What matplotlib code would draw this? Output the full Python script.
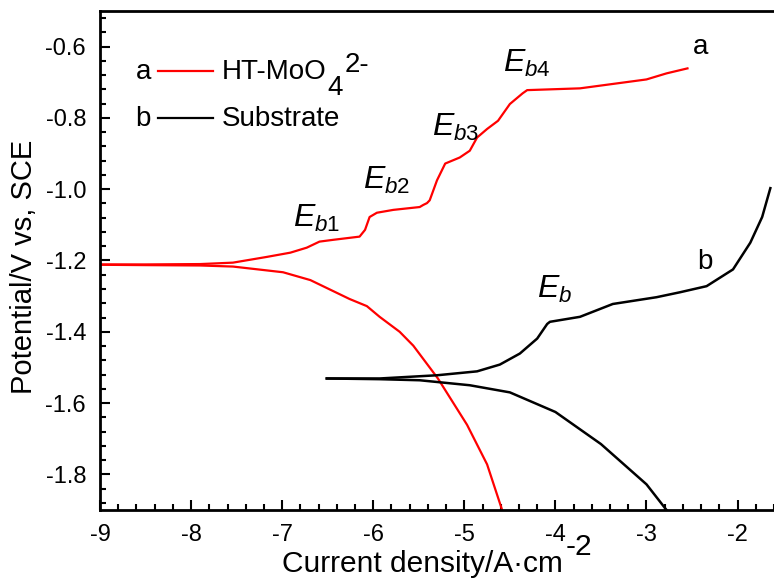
import matplotlib
matplotlib.use('Agg')
import matplotlib.pyplot as plt
from matplotlib.ticker import MultipleLocator, FormatStrFormatter

plt.rcParams['font.family'] = ['Liberation Sans', 'DejaVu Sans']
plt.rcParams['mathtext.fontset'] = 'custom'
plt.rcParams['mathtext.rm'] = 'Liberation Sans'
plt.rcParams['mathtext.it'] = 'Liberation Sans:italic'
plt.rcParams['axes.unicode_minus'] = False

# curve a: HT-MoO4(2-) film, anodic and cathodic branches (log i, E)
a_anod_x = [-9.0, -8.5, -7.9, -7.54, -7.17, -6.91, -6.73, -6.59, -6.44, -6.15, -6.09,
            -6.04, -5.96, -5.78, -5.49, -5.45, -5.41, -5.38, -5.30, -5.21, -5.05, -4.94,
            -4.86, -4.75, -4.63, -4.50, -4.36, -4.31, -3.73, -3.0, -2.78, -2.55]
a_anod_y = [-1.211, -1.211, -1.210, -1.206, -1.190, -1.178, -1.164, -1.147, -1.142, -1.133, -1.114,
            -1.078, -1.066, -1.058, -1.050, -1.044, -1.039, -1.031, -0.975, -0.928, -0.911, -0.892,
            -0.855, -0.831, -0.808, -0.761, -0.731, -0.722, -0.717, -0.692, -0.675, -0.661]
a_cath_x = [-9.0, -8.5, -7.9, -7.54, -6.99, -6.69, -6.26, -6.07, -5.93, -5.71, -5.56,
            -5.29, -4.97, -4.75, -4.585]
a_cath_y = [-1.212, -1.213, -1.214, -1.217, -1.233, -1.255, -1.308, -1.328, -1.358, -1.400, -1.439,
            -1.531, -1.661, -1.772, -1.900]

# curve b: substrate
b_anod_x = [-6.51, -5.93, -5.30, -4.86, -4.61, -4.39, -4.20, -4.09, -4.06, -3.73, -3.37,
            -2.89, -2.63, -2.34, -2.05, -1.86, -1.73, -1.64]
b_anod_y = [-1.531, -1.531, -1.522, -1.511, -1.492, -1.461, -1.419, -1.378, -1.372, -1.358, -1.322,
            -1.303, -1.289, -1.272, -1.225, -1.150, -1.078, -0.997]
b_cath_x = [-6.51, -5.93, -5.49, -4.94, -4.50, -4.00, -3.50, -3.00, -2.78]
b_cath_y = [-1.531, -1.533, -1.536, -1.550, -1.570, -1.625, -1.715, -1.828, -1.900]

# breakdown potential labels
eb_labels = [r'$E_{\mathit{b1}}$', r'$E_{\mathit{b2}}$', r'$E_{\mathit{b3}}$', r'$E_{\mathit{b4}}$', r'$E_{\mathit{b}}$']
eb_x = [-6.88, -6.11, -5.35, -4.57, -4.20]
eb_y = [-1.106, -1.000, -0.850, -0.672, -1.306]

fig = plt.figure(figsize=(7.74, 5.88), dpi=100)
ax = fig.add_axes([100 / 774, 78 / 588, 674 / 774, 499 / 588])

red = '#ff0000'
ax.plot(a_anod_x, a_anod_y, color=red, lw=1.6)
ax.plot(a_cath_x, a_cath_y, color=red, lw=1.6)
ax.plot(b_anod_x, b_anod_y, color='black', lw=1.8)
ax.plot(b_cath_x, b_cath_y, color='black', lw=1.8)

for lab, x, y in zip(eb_labels, eb_x, eb_y):
    ax.text(x, y, lab, fontsize=23, ha='left', va='baseline')

ax.text(-2.41, -0.60, 'a', fontsize=20, ha='center', va='center')
ax.text(-2.36, -1.203, 'b', fontsize=20, ha='center', va='center')

# hand-made legend: letter, line sample, name
fs_leg = 20
ya, yb = 0.864, 0.770
ax.text(0.064, ya, 'a', transform=ax.transAxes, fontsize=fs_leg, ha='center', va='baseline')
ax.plot([0.086, 0.168], [ya + 0.015, ya + 0.015], color=red, lw=1.6, transform=ax.transAxes)
t1 = ax.text(0.181, ya, 'HT-MoO', transform=ax.transAxes, fontsize=fs_leg, ha='left', va='baseline')
t2 = ax.annotate('4', xy=(1, 0), xycoords=t1, xytext=(0.5, -7.3), textcoords='offset points',
                 fontsize=fs_leg, ha='left', va='baseline')
ax.annotate('2-', xy=(1, 0), xycoords=(t2, t1), xytext=(1, 9.3), textcoords='offset points',
            fontsize=fs_leg, ha='left', va='baseline')

ax.text(0.064, yb, 'b', transform=ax.transAxes, fontsize=fs_leg, ha='center', va='baseline')
ax.plot([0.086, 0.168], [yb + 0.015, yb + 0.015], color='black', lw=1.6, transform=ax.transAxes)
ax.text(0.181, yb, 'Substrate', transform=ax.transAxes, fontsize=fs_leg, ha='left', va='baseline')

ax.set_xlim(-9, -1.6)
ax.set_ylim(-1.9, -0.5)
ax.xaxis.set_major_locator(MultipleLocator(1))
ax.xaxis.set_minor_locator(MultipleLocator(0.2))
ax.yaxis.set_major_locator(MultipleLocator(0.2))
ax.yaxis.set_minor_locator(MultipleLocator(0.04))
ax.yaxis.set_major_formatter(FormatStrFormatter('%.1f'))
ax.tick_params(which='both', direction='in', top=False, right=False, labelsize=17)
ax.tick_params(which='major', length=7, width=1.5)
ax.tick_params(which='minor', length=4, width=1.5)
ax.tick_params(axis='x', pad=10)
ax.tick_params(axis='y', pad=10)
for side in ['left', 'bottom', 'top']:
    ax.spines[side].set_linewidth(2)
ax.spines['right'].set_visible(False)

xl = ax.set_xlabel('Current density/A·cm', fontsize=21.5)
ax.xaxis.set_label_coords(0.478, -0.08)
# raised exponent after the unit
ax.annotate('-2', xy=(1, 0), xycoords=xl, xytext=(2, 16.5), textcoords='offset points',
            fontsize=21.5, ha='left', va='baseline')
ax.set_ylabel('Potential/V vs, SCE', fontsize=21)
ax.yaxis.set_label_coords(-0.092, 0.487)

fig.savefig('out.png', dpi=100)
